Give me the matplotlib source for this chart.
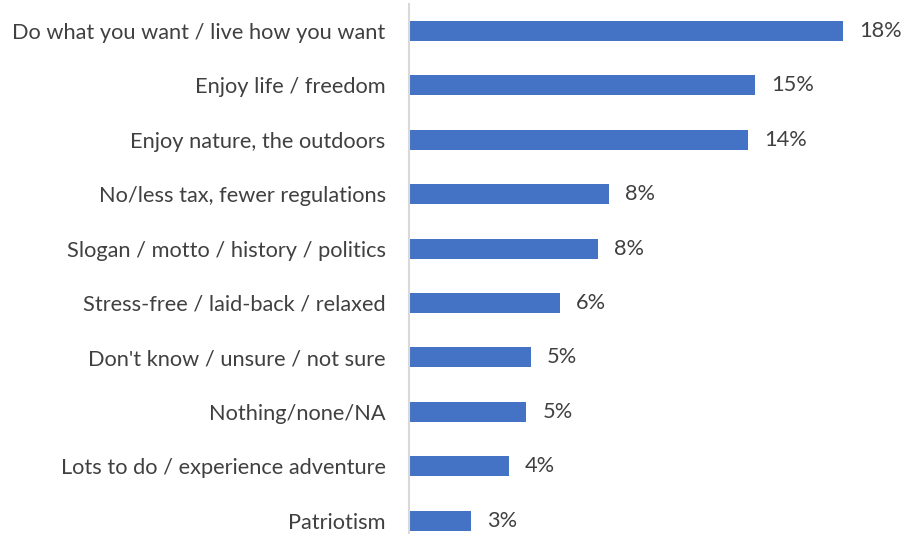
import matplotlib
matplotlib.use("Agg")
import matplotlib.pyplot as plt

categories = [
    "Do what you want / live how you want",
    "Enjoy life / freedom",
    "Enjoy nature, the outdoors",
    "No/less tax, fewer regulations",
    "Slogan / motto / history / politics",
    "Stress-free / laid-back / relaxed",
    "Don't know / unsure / not sure",
    "Nothing/none/NA",
    "Lots to do / experience adventure",
    "Patriotism",
]
shares = [18.28, 14.56, 14.26, 8.41, 7.92, 6.31, 5.11, 4.91, 4.18, 2.56]

plt.rcParams["font.family"] = ["Lato", "DejaVu Sans"]
text_color = "#404040"
bar_color = "#4472C4"
font_size = 15.7

W, H = 904, 534
fig = plt.figure(figsize=(W / 100, H / 100), dpi=100)

# axes: zero line at x=410px, rows 54.4px apart starting at y=31px
px_per_pct = 23.7
row = 54.4
top = 31 - row / 2
bottom = top + row * len(categories)
ax = fig.add_axes([410 / W, 1 - bottom / H, (W - 410) / W, (bottom - top) / H])

y = list(range(len(categories)))
ax.barh(y, shares, height=0.37, color=bar_color)
ax.set_xlim(0, (W - 410) / px_per_pct)
ax.set_ylim(len(categories) - 0.5, -0.5)

for yi, v in zip(y, shares):
    ax.annotate(f"{v:.0f}%", (v, yi), xytext=(16, 0), textcoords="offset pixels",
                va="center", ha="left", fontsize=font_size, color=text_color)

ax.set_yticks(y, categories)
ax.tick_params(axis="y", length=0, pad=16.5, labelsize=font_size, labelcolor=text_color)
ax.set_xticks([])
for s in ["top", "right", "bottom"]:
    ax.spines[s].set_visible(False)
ax.spines["left"].set_color("#d9d9d9")
ax.spines["left"].set_linewidth(1.5)
ax.spines["left"].set_position(("outward", 1))

fig.savefig("out.png", dpi=100)
